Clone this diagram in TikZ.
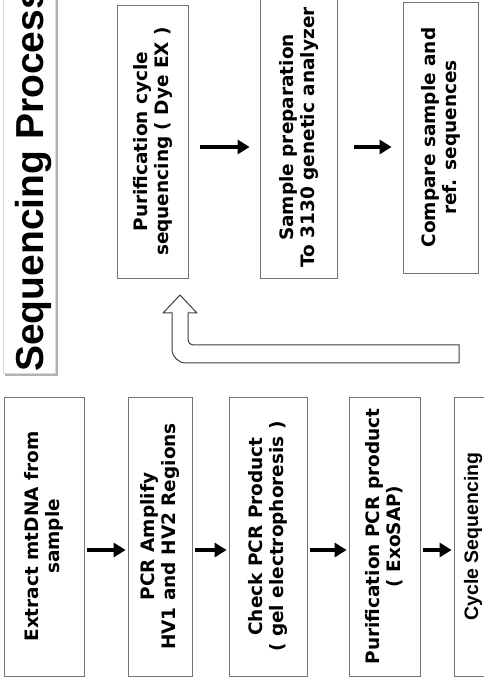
\documentclass[tikz,border=0pt]{standalone}
\usepackage{fontspec}
\setmainfont{DejaVu Sans}
\newfontfamily\arialfont{Liberation Sans}
\usepackage{tikz}
\usetikzlibrary{arrows.meta,positioning}

\tikzset{
    stepbox/.style={draw=black!55, line width=0.8pt, rotate=90, align=center, inner sep=0pt,
        font=\bfseries\fontsize{18.5}{21}\selectfont},
    flow/.style={-{Triangle[length=12pt,width=14pt]}, line width=3.3pt}
}

\begin{document}
\begin{tikzpicture}[x=1pt,y=1pt]
        \useasboundingbox (0,0) rectangle (484,683);

        % Title
        \fill[black!30] (5,307) rectangle (58,700);
        \filldraw[fill=white, draw=black!15] (3,310) rectangle (55,700);
        \node[rotate=90, anchor=base west, inner sep=0pt,
            font=\arialfont\bfseries\fontsize{39}{44}\selectfont] (title) at (43,311) {Sequencing Process};

        % Lower row
        \node[stepbox, minimum width=279, minimum height=80] (extract) at (44,146.5) {Extract mtDNA from\\sample};
        \node[stepbox, minimum width=279, minimum height=64] (pcr) at (160,146.5) {PCR Amplify\\HV1 and HV2 Regions};
        \node[stepbox, minimum width=279, minimum height=78] (check) at (268,146.5) {Check PCR Product\\( gel electrophoresis )};
        \node[stepbox, minimum width=279, minimum height=71] (exosap) at (384.5,146.5) {Purification PCR product\\( ExoSAP)};
        \node[stepbox, minimum width=279, minimum height=38,
            font=\arialfont\bfseries\fontsize{19.5}{21}\selectfont] (cycle) at (473,146.5) {Cycle Sequencing};

        \draw[flow, shorten <=3pt, shorten >=2pt] ([yshift=-13.5pt]extract.south) -- ([yshift=-13.5pt]pcr.north);
        \draw[flow, shorten <=3pt, shorten >=2pt] ([yshift=-13.5pt]pcr.south) -- ([yshift=-13.5pt]check.north);
        \draw[flow, shorten <=3pt, shorten >=2pt] ([yshift=-13.5pt]check.south) -- ([yshift=-13.5pt]exosap.north);
        \draw[flow, shorten <=3pt, shorten >=2pt] ([yshift=-13.5pt]exosap.south) -- ([yshift=-13.5pt]cycle.north);

        % Upper row
        \node[stepbox, minimum width=273, minimum height=71] (dyeex) at (152.5,541.5) {Purification cycle\\sequencing ( Dye EX )};
        \node[stepbox, minimum width=281, minimum height=77] (prep) at (298.5,545.5) {Sample preparation\\To 3130 genetic analyzer};
        \node[stepbox, minimum width=271, minimum height=75] (compare) at (440.5,545.5) {Compare sample and\\ref. sequences};

        \draw[flow, shorten <=12pt, shorten >=10pt] ([yshift=-5.5pt]dyeex.south) -- ([yshift=-9.5pt]prep.north);
        \draw[flow, shorten <=17pt, shorten >=11pt] ([yshift=-9.5pt]prep.south) -- ([yshift=-9.5pt]compare.north);

        % Loop back arrow
        \draw[black!75, line width=1pt, fill=white] (459,338) -- (193,338)
            arc[start angle=270, end angle=180, radius=5] -- (188,370) -- (197,370) -- (180,388)
            -- (163,370) -- (172,370) -- (172,334)
            arc[start angle=180, end angle=270, radius=14] -- (459,320) -- cycle;
    \end{tikzpicture}
\end{document}
